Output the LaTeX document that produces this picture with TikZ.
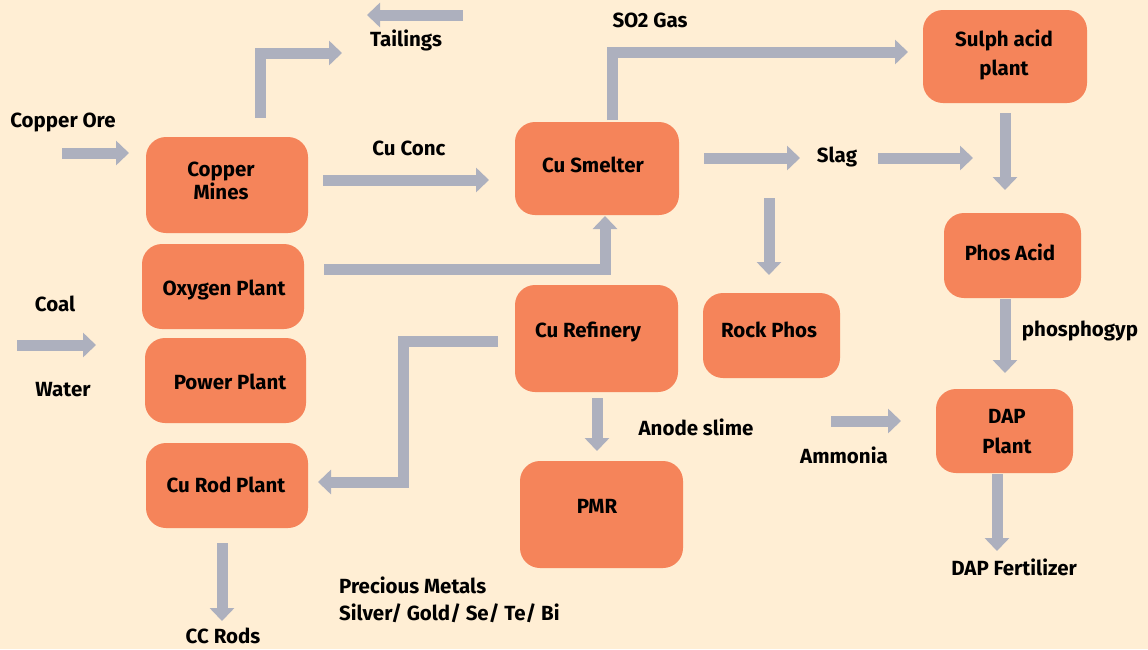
\documentclass[tikz,border=0pt]{standalone}
\usepackage{fontspec}
\setmainfont{Fira Sans}
\usetikzlibrary{arrows.meta}
\definecolor{bgc}{HTML}{FFEED4}
\definecolor{boxc}{HTML}{F5845A}
\definecolor{arrc}{HTML}{ADB0BE}
\begin{document}
\begin{tikzpicture}[x=1pt,y=-1pt,
  box/.style={fill=boxc, draw=none, rounded corners=20pt, inner sep=0pt},
  lbl/.style={font=\fontsize{20.5}{29}\selectfont\bfseries, text=black, inner sep=0pt, align=center},
  flow/.style={draw=arrc, line width=11pt, line join=miter, -{Triangle[length=13pt,width=24pt]}}]
\fill[bgc] (0,0) rectangle (1148,649);
\useasboundingbox (0,0) rectangle (1148,649);

% boxes
\node[box, minimum width=162pt, minimum height=96pt] (mines) at (227,185) {};
\node[box, minimum width=162pt, minimum height=85pt] (oxy) at (223,286.5) {};
\node[box, minimum width=161pt, minimum height=85pt] (power) at (225.5,380.5) {};
\node[box, minimum width=162pt, minimum height=85pt] (rod) at (227,485.5) {};
\node[box, minimum width=164pt, minimum height=93pt] (smelter) at (597,168.5) {};
\node[box, minimum width=163pt, minimum height=107pt] (refinery) at (596.5,338.5) {};
\node[box, minimum width=163pt, minimum height=107pt] (pmr) at (601.5,514.5) {};
\node[box, minimum width=137pt, minimum height=85pt] (rock) at (771.5,335.5) {};
\node[box, minimum width=164pt, minimum height=93pt] (sulph) at (1005,56.5) {};
\node[box, minimum width=137pt, minimum height=85pt] (phos) at (1012.5,255.5) {};
\node[box, minimum width=137pt, minimum height=84pt] (dap) at (1004.5,431) {};

% box texts
\node[lbl, font=\fontsize{20.5}{23}\selectfont\bfseries] (tmines) at (221,181) {Copper\\Mines};
\node[lbl] (toxy) at (224,290) {Oxygen Plant};
\node[lbl] (tpower) at (230,382) {Power Plant};
\node[lbl] (trod) at (226,485) {Cu Rod Plant};
\node[lbl] (tsmelter) at (593,165) {Cu Smelter};
\node[lbl] (trefinery) at (588,332) {Cu Refinery};
\node[lbl] (tpmr) at (597,506) {PMR};
\node[lbl] (trock) at (769,330) {Rock Phos};
\node[lbl] (tsulph) at (1004,55) {Sulph acid\\plant};
\node[lbl] (tphos) at (1010,252) {Phos Acid};
\node[lbl, font=\fontsize{20.5}{30}\selectfont\bfseries] (tdap) at (1007,432) {DAP\\Plant};

% free labels
\node[lbl] (tailings) at (406,40) {Tailings};
\node[lbl] (ore) at (63,122) {Copper Ore};
\node[lbl] (conc) at (409,148) {Cu Conc};
\node[lbl] (so2) at (650,20) {SO2 Gas};
\node[lbl] (slag) at (837,157) {Slag};
\node[lbl] (gyp) at (1080,331) {phosphogyp};
\node[lbl] (coal) at (55,304) {Coal};
\node[lbl] (water) at (63,390) {Water};
\node[lbl] (slime) at (696,427) {Anode slime};
\node[lbl] (ammonia) at (844,455) {Ammonia};
\node[lbl] (fert) at (1014,567) {DAP Fertilizer};
\node[lbl] (ccrods) at (223,636) {CC Rods};
\node[lbl, anchor=west] (prec1) at (339,585) {Precious Metals};
\node[lbl, anchor=west] (prec2) at (339,613) {Silver/ Gold/ Se/ Te/ Bi};

% arrow end points
\coordinate (a1s) at (463,15);   \coordinate (a1e) at (367,15);
\coordinate (a2s) at (260,118);  \coordinate (a2c) at (260,53);  \coordinate (a2e) at (342,53);
\coordinate (a3s) at (62,153);   \coordinate (a3e) at (129,153);
\coordinate (a4s) at (323,180);  \coordinate (a4e) at (489,180);
\coordinate (a5s) at (324,269);  \coordinate (a5c) at (605,269); \coordinate (a5e) at (605,216);
\coordinate (a6s) at (612,120);  \coordinate (a6c) at (612,52);  \coordinate (a6e) at (908,52);
\coordinate (a7s) at (704,158);  \coordinate (a7e) at (800,158);
\coordinate (a8s) at (878,158);  \coordinate (a8e) at (973,158);
\coordinate (a9s) at (1005,113); \coordinate (a9e) at (1005,190);
\coordinate (a10s) at (769,198); \coordinate (a10e) at (769,275);
\coordinate (a11s) at (1005,299);\coordinate (a11e) at (1005,373);
\coordinate (a12s) at (17,345);  \coordinate (a12e) at (96,345);
\coordinate (a13s) at (498,341); \coordinate (a13c) at (403,341); \coordinate (a13d) at (403,482); \coordinate (a13e) at (318,482);
\coordinate (a14s) at (597,398); \coordinate (a14e) at (597,451);
\coordinate (a15s) at (831,421); \coordinate (a15e) at (901,421);
\coordinate (a16s) at (997,474); \coordinate (a16e) at (997,551);
\coordinate (a17s) at (222,543); \coordinate (a17e) at (222,621);

\draw[flow] (a1s) -- (a1e);
\draw[flow] (a2s) -- (a2c) -- (a2e);
\draw[flow] (a3s) -- (a3e);
\draw[flow] (a4s) -- (a4e);
\draw[flow] (a5s) -- (a5c) -- (a5e);
\draw[flow] (a6s) -- (a6c) -- (a6e);
\draw[flow] (a7s) -- (a7e);
\draw[flow] (a8s) -- (a8e);
\draw[flow] (a9s) -- (a9e);
\draw[flow] (a10s) -- (a10e);
\draw[flow] (a11s) -- (a11e);
\draw[flow] (a12s) -- (a12e);
\draw[flow] (a13s) -- (a13c) -- (a13d) -- (a13e);
\draw[flow] (a14s) -- (a14e);
\draw[flow] (a15s) -- (a15e);
\draw[flow] (a16s) -- (a16e);
\draw[flow] (a17s) -- (a17e);
\end{tikzpicture}
\end{document}
